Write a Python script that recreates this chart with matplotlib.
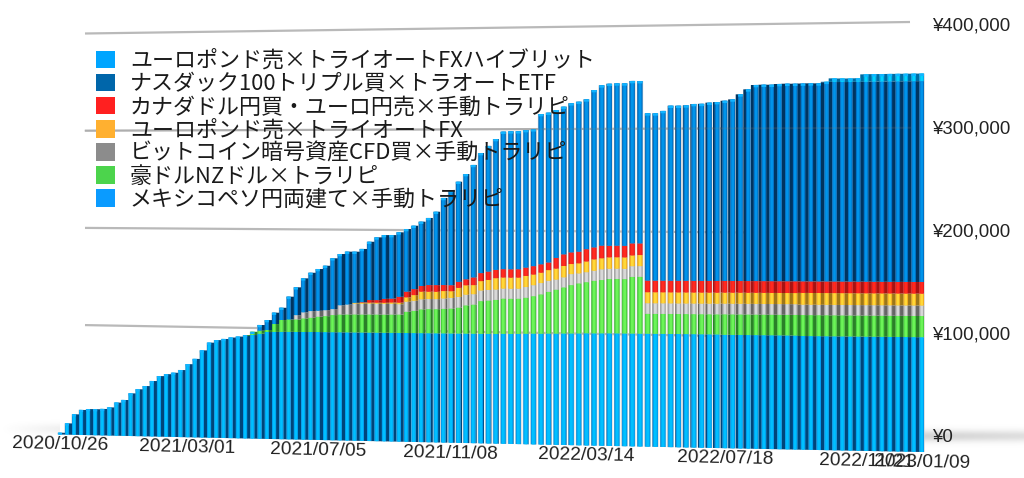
import numpy as np
import matplotlib
matplotlib.use("Agg")
import matplotlib.pyplot as plt
from matplotlib.patches import Patch
from matplotlib.transforms import Transform

# Values in thousands of yen, one per weekly bar
mexico = [1.8,11.3,20.5,25,26,26,26.4,28.1,33,35.7,42.4,46.6,49.9,55,60,62,63.5,66.3,72.2,77.5,86,93.7,96.3,97.5,
          99,100,100.7,101.7,103,104.8,105,105.1,105.2,105.2,105.2,105.3,105.3,105.3,105.3,105.3,105.3,105.3,105.3,105.3,105.3,105.3,
          105.3,105.3,105.3,105.3,105.3,105.3,105.3,105.3,105.3,105.3,105.3,105.3,105.3,105.3,105.3,
          105.5,105.5,105.6,105.8,106,106,106.2,106.2,106.4,106.5,106.6,106.8,106.8,106.9,107,107,107,107,107,
          107,107,107,107,107,107,107,107,107,107,106.7,106.7,106.7,106.7,106.7,106.7,106.7,106.7,106.7,106.7,
          106.3,106.3,106.3,106.3,106.3,106.3,106.3,106.3,106.3,106.3,106.3,106.3,106.3,106.3,106.3,106.3]
aud_nzd = [0]*26 + [.9,3.2,3,2,7.7,11.6,12.1,12.2,13.3,13.9,15,15.6,16.7,17.3,17.4,17.5,17.5,17.6,17.6,17.6,17.7,17.8,
          20.6,21.5,23,23.3,23.3,23.7,24,25,27.2,28,31.4,32,32.7,33.8,33.7,33.7,34.5,35.8,37.6,39.9,42,44,46.1,47.7,48.7,50.1,
          50.7,51.6,51.7,51.6,53.8,53.9,
          18.9,18.9,18.9,18.9,18.9,18.9,18.9,18.9,18.9,18.9,19.3,19.3,19.3,19.3,19.3,19.3,19.3,19.3,19.3,19.3,
          19.6,19.6,19.6,19.6,19.6,19.6,19.6,19.6,19.6,19.6,19.6,19.6,19.6,19.6,19.6,19.6]
bitcoin = [0]*33 + [4.2,5.9,6.5,5.8,5.8,5.8,9,9.7,10.5,10.5,10.5,10.5,10.5,10.5,10,9.7,9.7,9.7,9.7,9.7,10,10.3,10.3,10.3,10,
          10.2,10.2,9.9,9.6,9.6,9.6,10.2,10.5,10.8,10.5,9.6,9.6,10.5,9.5,9.5,9.5,10.2,9.8,9.8,9.8,10.1,10.1,
          10,10,10,10,10,10,10,10,10,10,10,10,10,10,10,10,10,10,10,10,
          9.7,9.7,9.7,9.7,9.7,9.7,9.7,9.7,9.7,9.7,9.7,9.7,9.7,9.7,9.7,9.7]
eurgbp_fx = [0]*41 + [.8,1,1,1,1,1.2,1.5,4.2,5.5,7.4,7.1,7.1,7.1,6.4,8.7,9,8.7,9,9.6,10.9,10.6,10.6,10.6,10.6,10.2,9.9,10.2,10.5,10.8,
          9.6,9.6,10.2,10.8,10.5,10.8,10.8,10.8,10.2,10.5,
          10.4,10.4,10.4,10.4,10.4,10.4,10.4,10.4,10.4,10.4,10.4,10.4,10.4,10.4,10.4,10.4,10.4,10.4,10.4,10.4,
          11,11,11,11,11,11,11,11,11,11,11,11,11,11,11,11]
cad_eur = [0]*42 + [.5,2.5,2.5,3.8,3.8,5.7,5.5,5.8,5.5,6.4,6.4,5.8,5.8,5.8,5.8,7.4,7.7,8,8,8,8,8,8,8,8,7.3,10.2,11.1,11.1,11.1,11.7,11.4,
          12,11,11,11,11.4,11,
          11,11,11,11,11,11,11,11,11,11,11,11,11,11,11,11,11,11,11,11,
          10.8,10.8,10.8,10.8,10.8,10.8,10.8,10.8,10.8,10.8,10.8,10.8,10.8,10.8,10.8,10.8]
nasdaq = [0]*28 + [5.6,9.7,11.1,12,22.3,27.2,33.2,37.4,40.7,43.3,49.5,49.9,51.4,49.7,51.7,56.6,60.9,61.8,61.5,62.4,
          60.6,61.3,62.1,64.8,70.8,84,91.7,96.4,101.3,108.2,115.4,120.7,125.6,131.9,132.3,132.2,131.7,131,143.7,143.1,141.2,140.9,142.2,142.9,142.7,149.8,
          152.5,154,154.2,154.2,154.1,153.9,
          158.5,158.4,160.6,165.5,165.4,165.7,166.9,167,168,168.5,169.6,170.8,175.5,180.1,184.1,184.3,184.2,184.8,185,184.9,
          185,185.1,185,186,186.2,186,185.9,186,185.9,186,186,186,186,186,186,186]
eurgbp_hybrid = [0]*103 + [.4,3.3,3.3,3.3,3.3,7,7,7,7,7,7,7,7]

series_bottom_up = [mexico, aud_nzd, bitcoin, eurgbp_fx, cad_eur, nasdaq, eurgbp_hybrid]
legend_labels = ["ユーロポンド売×トライオートFXハイブリット",
                 "ナスダック100トリプル買×トラオートETF",
                 "カナダドル円買・ユーロ円売×手動トラリピ",
                 "ユーロポンド売×トライオートFX",
                 "ビットコイン暗号資産CFD買×手動トラリピ",
                 "豪ドルNZドル×トラリピ",
                 "メキシコペソ円両建て×手動トラリピ"]
legend_colors = ["#00A5FF", "#0066AA", "#FF2020", "#FFB030", "#8C8C8C", "#4CD44C", "#0A9BFF"]
date_ticks = [0, 18, 36, 54, 72, 90, 108, 115]
date_labels = ["2020/10/26", "2021/03/01", "2021/07/05", "2021/11/08", "2022/03/14", "2022/07/18", "2022/11/21", "2023/01/09"]
grid_values = [100, 200, 300, 400]
y_tick_values = [0, 100, 200, 300, 400]
y_tick_labels = ["¥0", "¥100,000", "¥200,000", "¥300,000", "¥400,000"]

# (base colour, centre highlight, side face) for each series, bottom up
palette = [("#009EEE", "#00C0FF", "#00457A"),
           ("#4AD03E", "#6CF458", "#2A8028"),
           ("#A8A8A8", "#D8D8D8", "#666666"),
           ("#F2AE20", "#FFD838", "#9C7618"),
           ("#E81E1E", "#FF2A1E", "#A81212"),
           ("#0070C4", "#0094EA", "#003460"),
           ("#00ACEE", "#00D4FF", "#006AA0")]


class FrontProjection(Transform):
    """Perspective of the bars: (bar index, value) to picture pixels."""
    input_dims = output_dims = 2
    is_separable = False

    def transform_non_affine(self, values):
        values = np.asarray(values, dtype=float)
        u, v = values[:, 0], values[:, 1]
        x = 60 + 7.01 * u + 0.0042 * u ** 2
        y = 434.5 + 0.1522 * u - (1.0 + 0.000696 * u) * v
        return np.column_stack([x, y])


class WallProjection(Transform):
    """Perspective of the back wall: (0..1 along the wall, value) to pixels."""
    input_dims = output_dims = 2
    is_separable = False

    def transform_non_affine(self, values):
        values = np.asarray(values, dtype=float)
        t, v = values[:, 0], values[:, 1]
        x = 85 + 825 * t
        y = 422.3 + 22.7 * t - (0.972 + 0.0855 * t) * v
        return np.column_stack([x, y])


fig = plt.figure(figsize=(10.24, 4.78), dpi=100, facecolor="white")
ax = fig.add_axes([0, 0, 1, 1])
ax.set_xlim(0, 1024)
ax.set_ylim(478, 0)
ax.axis("off")
ax.autoscale(False)

front = FrontProjection() + ax.transData
wall = WallProjection() + ax.transData

# Floor shadow
yy = np.linspace(-1, 1, 60)
glow = np.exp(-(yy * 2.2) ** 2)[:, None]
ramp = np.linspace(1, 0.75, 100)[None, :]
ax.imshow(1 - 0.17 * glow * ramp, cmap="gray", vmin=0, vmax=1, aspect="auto",
          extent=(924, 1024, 449, 423), zorder=0)
ramp = np.linspace(0, 1, 60)[None, :]
ax.imshow(1 - 0.06 * glow * ramp, cmap="gray", vmin=0, vmax=1, aspect="auto",
          extent=(0, 60, 441, 417), zorder=0)
ax.set_xlim(0, 1024)
ax.set_ylim(478, 0)

# Back wall grid
for g in grid_values:
    ax.plot([0, 1], [g, g], color="#B9B9B9", lw=1.6, transform=wall, zorder=1, solid_capstyle="butt")

# Bars
u = np.arange(len(mexico), dtype=float)
stack = np.array(series_bottom_up, dtype=float)
bottoms = np.vstack([np.zeros(len(u)), np.cumsum(stack, axis=0)[:-1]])
totals = stack.sum(axis=0)

depth = 0.42
side = np.where(u < 70, depth * np.clip((62 - u) / 18, 0, 1), depth * np.clip((u - 82) / 15, 0, 1))
front_w = 0.68 - 0.1 * side / depth
side_dir = np.where(u < 70, 1.0, -1.0)
side_pos = u + side_dir * (front_w + side) / 2

# Pale rim round each column, seen in the gaps near the middle of the chart
ax.bar(u, totals, width=front_w + 0.14, color="#CCCCCC", linewidth=0, transform=front, zorder=2)

for vals, base, (col, hi, dark) in zip(stack, bottoms, palette):
    keep = vals > 0
    ax.bar(side_pos[keep], vals[keep], bottom=base[keep], width=side[keep] + 0.05, color=dark,
           linewidth=0, transform=front, zorder=3)
    ax.bar(u[keep], vals[keep], bottom=base[keep], width=front_w[keep], color=col,
           linewidth=0, transform=front, zorder=4)
    ax.bar(u[keep], vals[keep], bottom=base[keep], width=front_w[keep] * 0.55, color=hi,
           linewidth=0, transform=front, zorder=5)

# Light caps on the column tops
cap = np.minimum(2.2, totals)
ax.bar(u, cap, bottom=totals - cap, width=front_w, color="#12B4FF", linewidth=0, transform=front, zorder=6)

# Faint grid showing through the bars
for g in [300]:
    ax.plot([0, 1], [g, g], color="#808080", alpha=0.18, lw=1.4, transform=wall, zorder=7)

# Date labels along the floor
for tick, lab in zip(date_ticks, date_labels):
    ax.text(tick, -10, lab, transform=front, ha="center", va="center", rotation=-1.2,
            rotation_mode="anchor", fontsize=13.8, family="Liberation Sans", color="#222222", zorder=8)

# Value labels
for val, lab in zip(y_tick_values, y_tick_labels):
    ax.text(932, 437.5 - 1.03 * val, lab, ha="left", va="center", fontsize=13.4,
            family="Liberation Sans", color="#222222", zorder=8)

handles = [Patch(facecolor=c, edgecolor="none", label=l) for c, l in zip(legend_colors, legend_labels)]
leg = ax.legend(handles=handles, loc="upper left", bbox_to_anchor=(96, 50), bbox_transform=ax.transData,
                frameon=False, ncol=1, handlelength=0.86, handleheight=0.86, handletextpad=0.68,
                labelspacing=0.05, borderpad=0, borderaxespad=0,
                prop={"family": ["Noto Sans CJK JP", "DejaVu Sans"], "size": 15.85})
leg.set_zorder(9)
for t in leg.get_texts():
    t.set_color("#1A1A1A")

fig.savefig("out.png", dpi=100, facecolor="white")
